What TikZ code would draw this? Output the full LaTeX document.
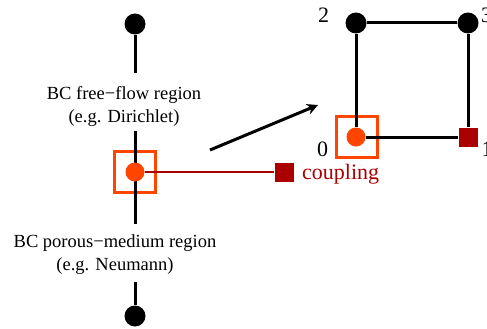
\documentclass[tikz,border=0pt]{standalone}
\usepackage{fontspec}
\setmainfont{Liberation Serif}
\usetikzlibrary{arrows.meta}
\definecolor{myorange}{HTML}{FF4500}
\definecolor{mydarkred}{HTML}{AA0000}
\begin{document}
\begin{tikzpicture}[x=1pt,y=-1pt,
  every node/.style={font=\fontsize{18.5}{23}\selectfont},
  big/.style={font=\fontsize{22}{26}\selectfont},
  blackdot/.style={circle,fill=black,inner sep=0pt,minimum size=21pt},
  orangedot/.style={circle,fill=myorange,inner sep=0pt,minimum size=19pt},
  redsq/.style={rectangle,fill=mydarkred,inner sep=0pt,minimum size=19pt},
  obox/.style={rectangle,draw=myorange,line width=2.5pt,inner sep=0pt,minimum size=41pt},
  edge/.style={line width=3pt,black},
  redline/.style={line width=2.5pt,mydarkred},
  bctext/.style={align=center,inner sep=0pt}
]
\useasboundingbox (0,0) rectangle (487,329);
% left
\node[blackdot] (ltop) at (135,24) {};
\node[blackdot] (lbot) at (135,316) {};
\node[bctext] (free) at (124,106) {BC free−flow region\\(e.g. Dirichlet)};
\node[bctext] (porous) at (115,255) {BC porous−medium region\\(e.g. Neumann)};
\coordinate (g1) at (135,73);
\coordinate (g2) at (135,131);
\coordinate (g3) at (135,224);
\coordinate (g4) at (135,282);
\node[obox] (lbox) at (135,172) {};
\draw[edge] (ltop) -- (g1);
\draw[edge] (g2) -- (g3);
\draw[edge] (g4) -- (lbot);
\node[redsq] (lsq) at (284,172) {};
\node[orangedot] (ldot) at (135,172) {};
\draw[redline] (ldot) -- (lsq);
\node[big,anchor=base west,text=mydarkred,inner sep=0pt] (coup) at (302,179) {coupling};
% arrow
\coordinate (as) at (210,150);
\coordinate (ae) at (318,105);
\draw[line width=3pt,-{Stealth[length=11pt,width=11pt]}] (as) -- (ae);
% right square
\node[blackdot] (n2) at (356,23) {};
\node[blackdot] (n3) at (468,23) {};
\node[obox] (rbox) at (357,137) {};
\node[redsq] (n1) at (468,137) {};
\node[orangedot] (n0) at (356,137) {};
\draw[edge] (n2) -- (n3);
\draw[edge] (n2) -- (n0);
\draw[edge] (n3) -- (n1);
\draw[edge] (n0) -- (n1);
\node[big,inner sep=0pt] (l2) at (323.5,15) {2};
\node[big,inner sep=0pt] (l3) at (486.5,15) {3};
\node[big,inner sep=0pt] (l0) at (322.5,149) {0};
\node[big,inner sep=0pt] (l1) at (487,149) {1};
\end{tikzpicture}
\end{document}
